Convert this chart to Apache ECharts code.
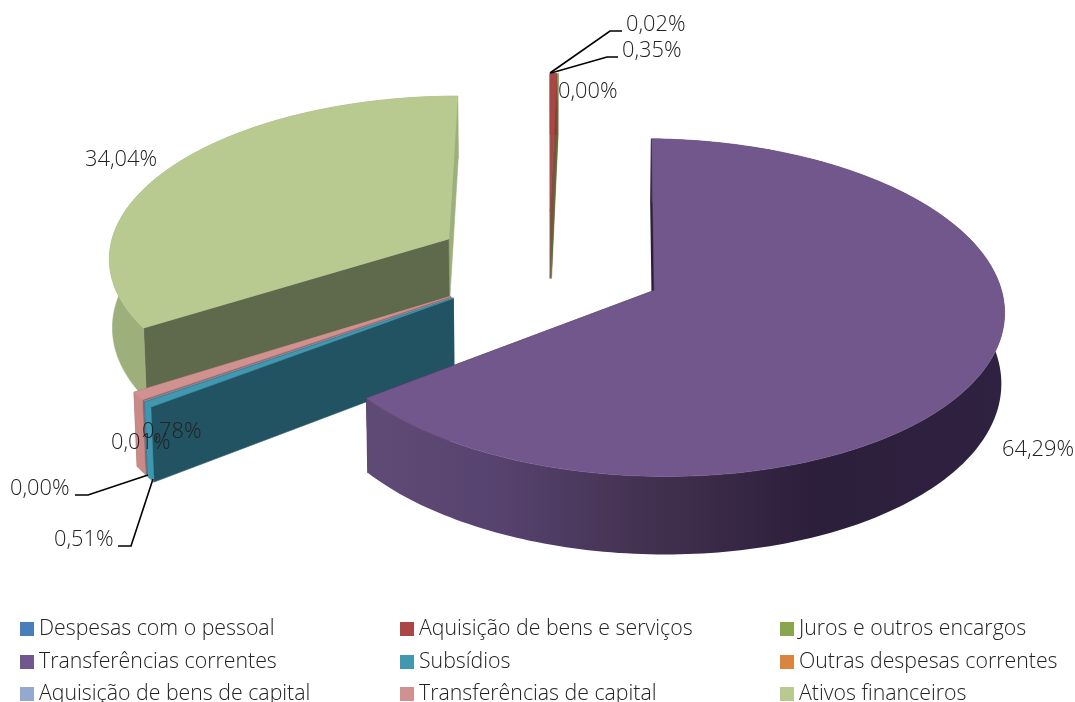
<!DOCTYPE html>
<html>
<head>
<meta charset="utf-8">
<style>html,body{margin:0;padding:0;background:#fff;overflow:hidden}#c{width:1075px;height:702px}</style>
<script src="https://cdn.jsdelivr.net/npm/echarts@6/dist/echarts.min.js"></script>
</head>
<body>
<div id="c"></div>
<script>
// ---- data ----
const categories = ['Despesas com o pessoal','Aquisição de bens e serviços','Juros e outros encargos','Transferências correntes','Subsídios','Outras despesas correntes','Aquisição de bens de capital','Transferências de capital','Ativos financeiros'];
const shares = [0.00, 0.35, 0.02, 64.29, 0.51, 0.00, 0.01, 0.78, 34.04];
const labelTexts = ['0,00%','0,35%','0,02%','64,29%','0,51%','0,00%','0,01%','0,78%','34,04%'];

// ---- styling ----
const topColors  = ['#4A7EBB','#AA4644','#89A54E','#72578C','#4198AF','#DB843D','#93A9CF','#D09290','#B8CA90'];
const sideColors = ['#3A6599','#8f3a38','#76903f','#5F4A75','#3E97B0','#b86f32','#7f93b5','#C98A88','#9DB07B'];
const wallColors = ['#2e4f78','#7e5040','#5f7236','#2a2035','#225363','#8f5526','#66778f','#96645A','#5E6A4B'];
const drawOrder = [8,7,6,5,4,0,2,1,3];
const labelPlace = [[558,92],[622,51],[626,25],[1002,450],[54,540],[10,489],[111,443],[142,432],[85,160]];
const leaders = [null,[[618,57],[607,57],[551,73]],[[622,31],[610,31],[550,73]],null,[[118,546],[131,546],[153,479]],[[75,495],[88,495],[148,475]],null,null,null];
const view = {X0:549, Y0:265, A:342, B:162, T:69, k:0.1, h:0.007, explode:0.34};
const legendX = [20,400,780], legendY = [629,662,694];

function project(wx, wy, wz){
  const d = 1 + view.k*wy;
  return [view.X0 + view.A*wx/(d - view.h*wz), view.Y0 - (view.B*wy + view.T*wz)/d];
}
const cum = []; shares.reduce((s,v,i)=>{cum[i]=s;return s+v;},0);
const ang = p => p/100*2*Math.PI;

function sliceShapes(i){
  const a0=ang(cum[i]), a1=ang(cum[i]+shares[i]), mid=(a0+a1)/2;
  const cx=view.explode*Math.sin(mid), cy=view.explode*Math.cos(mid);
  const n=Math.max(2,Math.ceil((a1-a0)/0.02));
  const thin=shares[i]<0.1, lw=thin?0.3:0.6;
  const rim=(z)=>{const r=[];for(let j=0;j<=n;j++){const t=a0+(a1-a0)*j/n;r.push(project(cx+Math.sin(t),cy+Math.cos(t),z));}return r;};
  const top=rim(0), bot=rim(-1), apexT=project(cx,cy,0), apexB=project(cx,cy,-1);
  const poly=(pts,fill,w)=>({type:'polygon',shape:{points:pts},style:{fill:fill,stroke:fill,lineWidth:w||lw}});
  const out=[];
  out.push(poly([apexT,top[n],bot[n],apexB],i===8?sideColors[i]:wallColors[i]));
  out.push(poly([apexT,top[0],bot[0],apexB],wallColors[i],i===3?2:lw));
  let side=sideColors[i];
  if(i===3){
    side=new echarts.graphic.LinearGradient(366,0,1005,0,[
      {offset:0,color:'#604B76'},{offset:0.2,color:'#57436F'},{offset:0.45,color:'#42304F'},
      {offset:0.7,color:'#2C1F3B'},{offset:1,color:'#2F2140'}],true);
  }
  if(!thin) out.push({type:'polygon',shape:{points:top.concat(bot.slice().reverse())},style:{fill:side,stroke:i===3?null:side,lineWidth:0.6}});
  out.push(poly([apexT].concat(top),topColors[i]));
  return out;
}

const series = categories.map((name,i)=>({
  name:name, type:'custom', coordinateSystem:'none', silent:true, animation:false,
  z:2+drawOrder.indexOf(i), itemStyle:{color:topColors[i]},
  data:[[shares[i]]],
  renderItem:()=> shares[i]>0 ? {type:'group',children:sliceShapes(i)} : {type:'group',children:[]}
}));

series.push({
  name:'rotulos', type:'custom', coordinateSystem:'none', silent:true, animation:false, z:30,
  data:labelTexts.map((t,i)=>[i]),
  renderItem:(p,api)=>{
    const i=api.value(0), kids=[];
    if(leaders[i]) kids.push({type:'polyline',shape:{points:leaders[i]},style:{stroke:'#000',lineWidth:1.6,fill:null}});
    kids.push({type:'text',x:labelPlace[i][0],y:labelPlace[i][1],style:{text:labelTexts[i],font:'300 21.8px "Open Sans"',fill:'#222',textAlign:'left',textVerticalAlign:'middle'}});
    return {type:'group',children:kids};
  }
});

const legends = categories.map((name,k)=>({
  orient:'horizontal',left:legendX[k%3],top:legendY[Math.floor(k/3)]-13.5,padding:0,
  itemWidth:14,itemHeight:14,icon:'rect',selectedMode:false,
  data:[name],
  textStyle:{fontFamily:'"Open Sans"',fontWeight:300,fontSize:21.3,color:'#222',height:27,lineHeight:27,padding:0}
}));

echarts.init(document.getElementById('c'),null,{renderer:'canvas'}).setOption({
  backgroundColor:'#fff',animation:false,
  legend:legends,
  series:series
});
</script>
</body>
</html>
